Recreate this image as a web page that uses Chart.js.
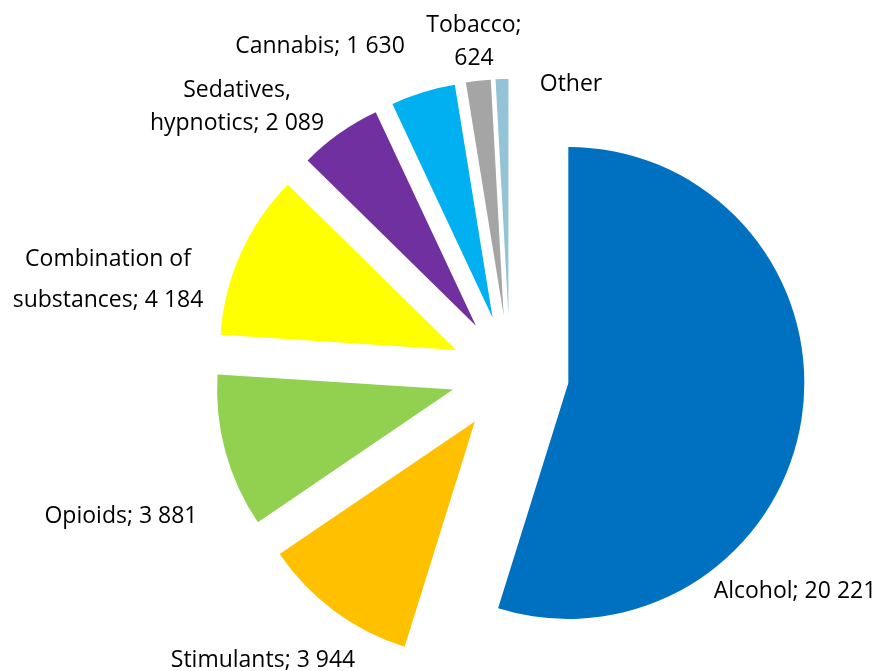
<!DOCTYPE html>
<html>
<head>
<meta charset="utf-8">
<script src="https://cdn.jsdelivr.net/npm/chart.js@4.4.1/dist/chart.umd.min.js"></script>
<style>
  html, body { margin: 0; padding: 0; background: #ffffff; }
  #wrap { width: 881px; height: 671px; }
</style>
</head>
<body>
<div id="wrap"><canvas id="c" width="881" height="671"></canvas></div>
<script>
// ---- data ----
const categories = ['Alcohol', 'Stimulants', 'Opioids', 'Combination of substances', 'Sedatives, hypnotics', 'Cannabis', 'Tobacco', 'Other'];
const values = [20221, 3944, 3881, 4184, 2089, 1630, 624, 320];
const showValue = [true, true, true, true, true, true, true, false];
const colors = ['#0070C0', '#FFC000', '#92D050', '#FFFF00', '#7030A0', '#00B0F0', '#A5A5A5', '#93C3D6'];

// ---- label layout (styling only) ----
const labelLayout = [
  { x: 795, y: 598, lines: 1 },
  { x: 263, y: 667, lines: 1 },
  { x: 121, y: 523, lines: 1 },
  { x: 108, y: 266, lines: 2, breakAfter: 'Combination of', lh: 41 },
  { x: 237, y: 97,  lines: 2, breakAfter: 'Sedatives,', lh: 33 },
  { x: 320, y: 53,  lines: 1 },
  { x: 474, y: 32,  lines: 2, breakAfter: 'Tobacco;', lh: 33 },
  { x: 571, y: 91,  lines: 1 }
];

const EXPLODE = 59;

function fmt(v) {
  return String(v).replace(/\B(?=(\d{3})+(?!\d))/g, ' ');
}

const explodePlugin = {
  id: 'explode',
  beforeDatasetDraw(chart, args) {
    const ctx = chart.ctx;
    const meta = args.meta;
    meta.data.forEach(arc => {
      const mid = (arc.startAngle + arc.endAngle) / 2;
      ctx.save();
      ctx.translate(Math.cos(mid) * EXPLODE, Math.sin(mid) * EXPLODE);
      arc.draw(ctx);
      ctx.restore();
    });
    return false;
  }
};

const labelPlugin = {
  id: 'sliceLabels',
  afterDraw(chart) {
    const ctx = chart.ctx;
    ctx.save();
    ctx.font = '23px "Open Sans"';
    ctx.fillStyle = '#000000';
    ctx.textAlign = 'center';
    ctx.textBaseline = 'alphabetic';
    categories.forEach((name, i) => {
      const text = showValue[i] ? name + '; ' + fmt(values[i]) : name;
      const L = labelLayout[i];
      if (L.lines === 2) {
        const first = L.breakAfter;
        const second = text.slice(first.length).trim();
        ctx.fillText(first, L.x, L.y);
        ctx.fillText(second, L.x, L.y + L.lh);
      } else {
        ctx.fillText(text, L.x, L.y);
      }
    });
    ctx.restore();
  }
};

new Chart(document.getElementById('c'), {
  type: 'pie',
  data: {
    labels: categories,
    datasets: [{
      data: values,
      backgroundColor: colors,
      borderWidth: 0,
      radius: 236
    }]
  },
  options: {
    responsive: false,
    animation: false,
    layout: { padding: { left: 139, right: 0, top: 77, bottom: 0 } },
    plugins: {
      legend: { display: false },
      tooltip: { enabled: false },
      title: { display: false }
    },
    events: []
  },
  plugins: [explodePlugin, labelPlugin]
});
</script>
</body>
</html>
